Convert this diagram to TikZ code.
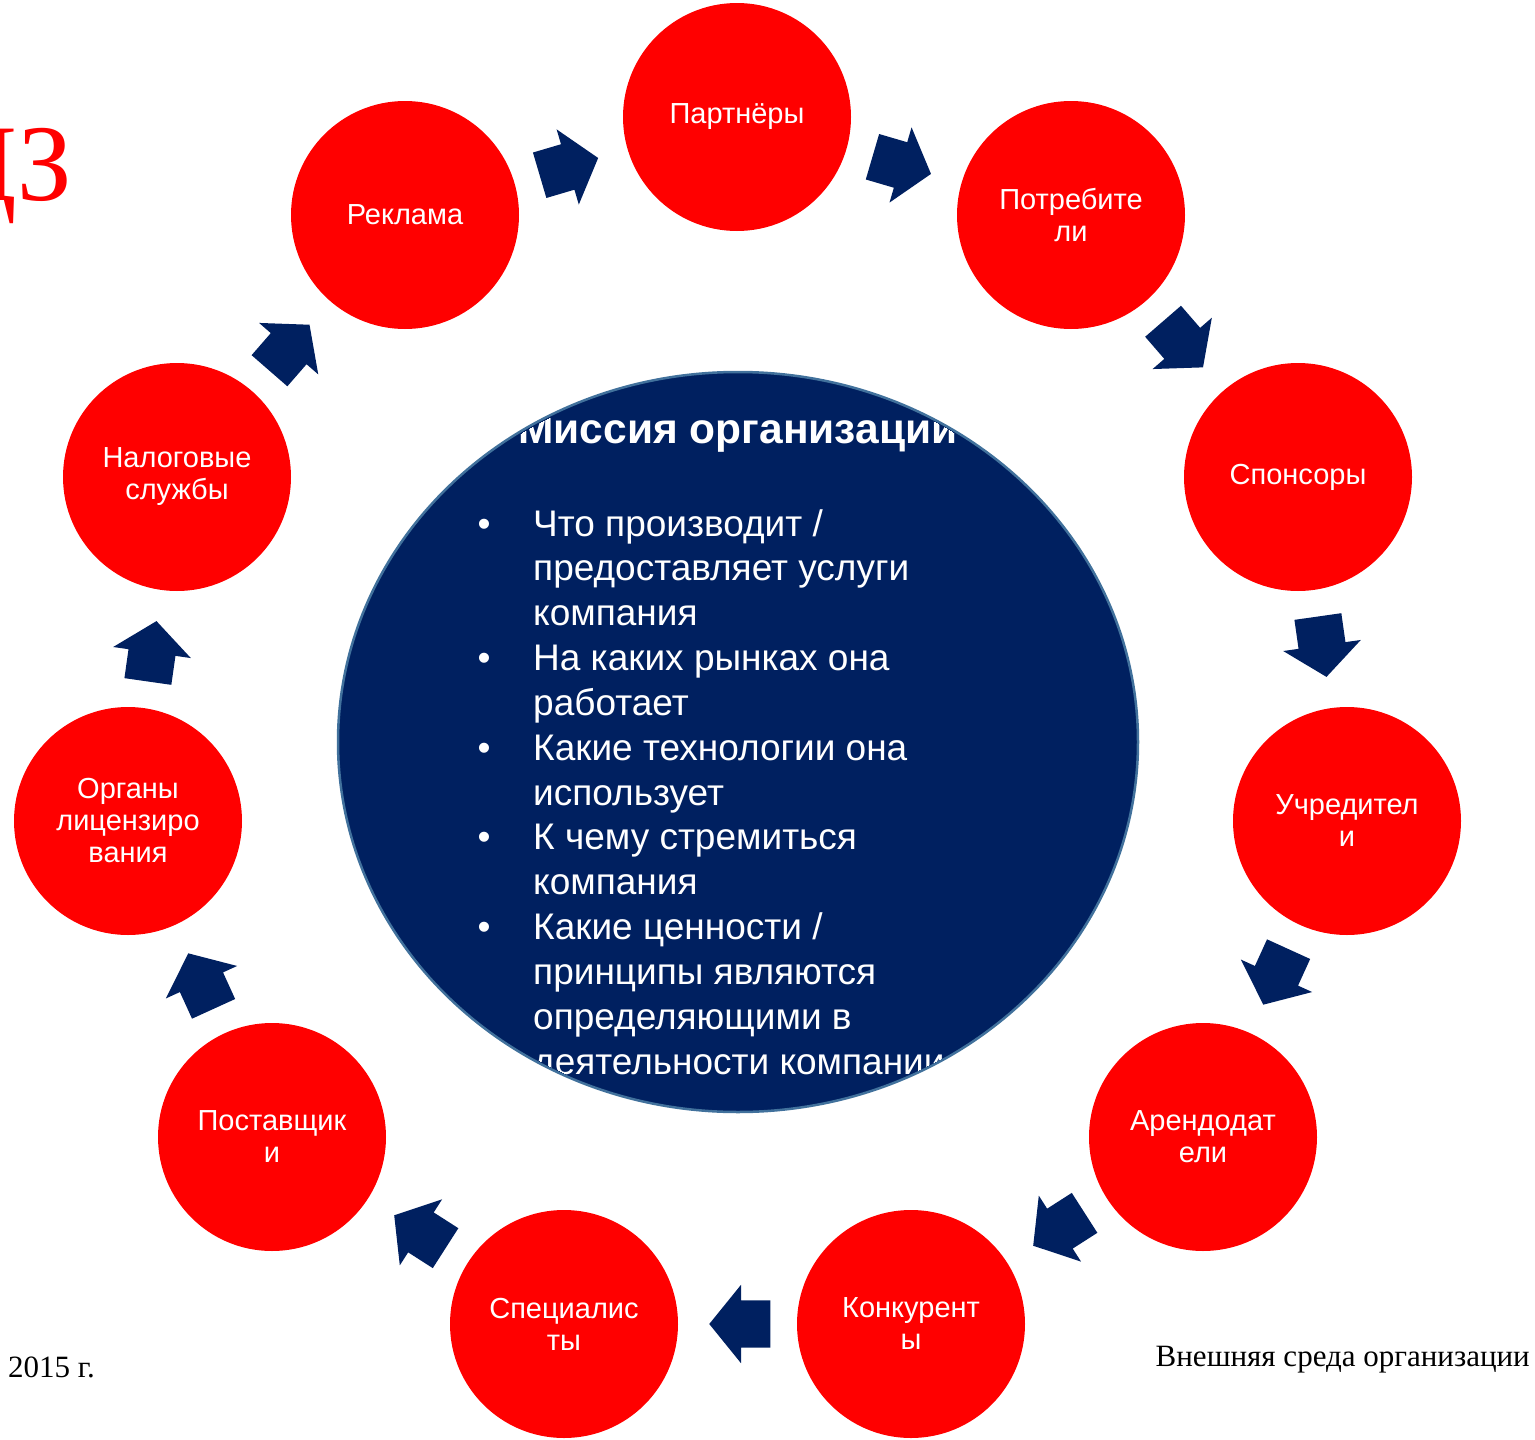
\documentclass[tikz,border=0pt]{standalone}
\usepackage{fontspec}
\setmainfont{Liberation Serif}
\setsansfont{Liberation Sans}
\usetikzlibrary{shapes.arrows}
\definecolor{navy}{HTML}{002060}
\definecolor{rimblue}{HTML}{41719C}
\definecolor{envred}{HTML}{FF0000}
\tikzset{
    actor/.style={circle, fill=envred, minimum size=228pt, inner sep=0pt,
        text=white, align=center, font=\sffamily\fontsize{29}{32}\selectfont},
    flowarrow/.style={single arrow, fill=navy, minimum height=61pt,
        inner xsep=0pt, inner ysep=23.5pt, single arrow head extend=15.5pt,
        single arrow tip angle=102, sloped, allow upside down},
    missiontext/.style={text=white, inner sep=0pt,
        font=\sffamily\fontsize{37}{45}\selectfont},
    footer/.style={inner sep=0pt, font=\fontsize{31}{33}\selectfont}
}

\begin{document}
\begin{tikzpicture}[x=1pt,y=-1pt]
    \useasboundingbox (0,0) rectangle (1535,1440);
    \node[anchor=base east, inner sep=0pt, text=envred,
          font=\fontsize{109}{110}\selectfont] (tag) at (72,200) {ЦЗ};
    % mission in the middle
    \coordinate (mission) at (738,742);
    \path[fill=navy, draw=rimblue, line width=2.5pt]
        (mission) ellipse [x radius=400, y radius=370];
    \begin{scope}
        \clip (mission) ellipse [x radius=398, y radius=368];
        \node[missiontext, anchor=base, font=\sffamily\bfseries\fontsize{42.5}{48}\selectfont]
            (title) at (738,443) {Миссия организации};
        \foreach \t [count=\i] in {Что производит /, предоставляет услуги, компания,
                На каких рынках она, работает, Какие технологии она, использует,
                К чему стремиться, компания, Какие ценности /, принципы являются,
                определяющими в, деятельности компании}
            \node[missiontext, anchor=base west] (line\i) at (533,{536+44.85*(\i-1)}) {\t};
        \foreach \i in {1,4,6,8,10}
            \node[missiontext, anchor=base] (bullet\i) at (484,{536+44.85*(\i-1)}) {•};
    \end{scope}
    % the ring of outside parties
    \node[actor] (partn)  at (737,117)  {Партнёры};
    \node[actor] (potreb) at (1071,215) {Потребите\\ли};
    \node[actor] (spons)  at (1298,477) {Спонсоры};
    \node[actor] (uchr)   at (1347,821) {Учредител\\и};
    \node[actor] (arend)  at (1203,1137) {Арендодат\\ели};
    \node[actor] (konk)   at (911,1324) {Конкурент\\ы};
    \node[actor] (spec)   at (564,1324) {Специалис\\ты};
    \node[actor] (post)   at (272,1137) {Поставщик\\и};
    \node[actor] (organ)  at (128,821)  {Органы\\лицензиро\\вания};
    \node[actor] (nalog)  at (177,477)  {Налоговые\\службы};
    \node[actor] (rekl)   at (405,215)  {Реклама};
    \foreach \a/\b in {rekl/partn, partn/potreb, potreb/spons, spons/uchr,
            uchr/arend, arend/konk, konk/spec, spec/post, post/organ,
            organ/nalog, nalog/rekl}
        \path (\a) -- (\b) node[flowarrow, pos=0.4] (arr-\a) {};
    % footer
    \node[footer, anchor=base west] (year) at (8,1377) {2015 г.};
    \node[footer, anchor=base east] (envtitle) at (1530,1366) {Внешняя среда организации};
\end{tikzpicture}
\end{document}
